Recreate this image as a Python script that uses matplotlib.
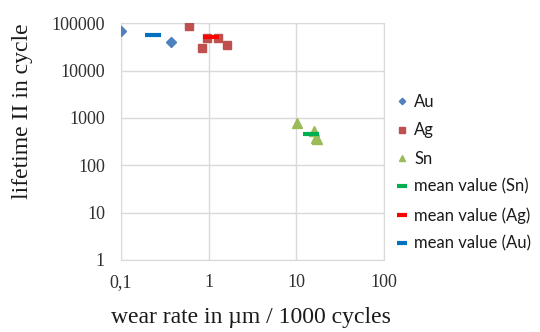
import matplotlib
matplotlib.use('Agg')
import matplotlib.pyplot as plt
from matplotlib.ticker import FixedLocator, FixedFormatter, NullLocator

# Messwerte (Verschleißrate in µm / 1000 Zyklen, Lebensdauer in Zyklen)
au_x = [0.1, 0.37]
au_y = [70000, 40500]
ag_x = [0.59, 0.83, 0.97, 1.28, 1.64]
ag_y = [89000, 30500, 49500, 49500, 34300]
sn_x = [10.3, 16.0, 16.6, 17.4]
sn_y = [790, 520, 370, 360]

# Mittelwerte
mean_sn = (14.8, 452)
mean_ag = (1.06, 51000)
mean_au = (0.234, 56500)

x_ticks = [0.1, 1, 10, 100]
x_labels = ['0,1', '1', '10', '100']
y_ticks = [1, 10, 100, 1000, 10000, 100000]
y_labels = ['1', '10', '100', '1000', '10000', '100000']

serif = 'Liberation Serif'
sans = 'Lato'

fig = plt.figure(figsize=(5.4, 3.32), dpi=100)
ax = fig.add_axes([0.224, 0.217, 0.487, 0.713])

ax.plot(au_x, au_y, linestyle='none', marker='D', markersize=5, color='#4F81BD', label='Au', zorder=3)
ax.plot(ag_x, ag_y, linestyle='none', marker='s', markersize=6.2, color='#C0504D', label='Ag', zorder=3)
ax.plot(sn_x, sn_y, linestyle='none', marker='^', markersize=6.8, color='#9BBB59', label='Sn', zorder=3)
mean_style = dict(linestyle='none', marker='_', markersize=11, markeredgewidth=3, zorder=4)
ax.plot([mean_sn[0]], [mean_sn[1]], color='#00B050', label='mean value (Sn)', **mean_style)
ax.plot([mean_ag[0]], [mean_ag[1]], color='#FF0000', label='mean value (Ag)', **mean_style)
ax.plot([mean_au[0]], [mean_au[1]], color='#0070C0', label='mean value (Au)', **mean_style)

ax.set_xscale('log')
ax.set_yscale('log')
ax.set_xlim(0.1, 100)
ax.set_ylim(1, 100000)
ax.xaxis.set_major_locator(FixedLocator(x_ticks))
ax.xaxis.set_major_formatter(FixedFormatter(x_labels))
ax.xaxis.set_minor_locator(NullLocator())
ax.yaxis.set_major_locator(FixedLocator(y_ticks))
ax.yaxis.set_major_formatter(FixedFormatter(y_labels))
ax.yaxis.set_minor_locator(NullLocator())

ax.grid(True, color='#D9D9D9', linewidth=1)
ax.set_axisbelow(True)
for s in ax.spines.values():
    s.set_color('#D9D9D9')
ax.tick_params(length=0, labelsize=13, labelcolor='#303030')
for lbl in ax.get_xticklabels() + ax.get_yticklabels():
    lbl.set_family(serif)
ax.tick_params(axis='y', pad=11.5)
ax.tick_params(axis='x', pad=10)

fig.text(0.465, 0.045, 'wear rate in µm / 1000 cycles', fontsize=17, family=serif,
         color='#1a1a1a', ha='center', va='center')
fig.text(0.042, 0.665, 'lifetime II in cycle', fontsize=17, family=serif,
         color='#1a1a1a', ha='center', va='center', rotation=90)

leg = fig.legend(loc='upper left', bbox_to_anchor=(0.733, 0.716), frameon=False,
                 prop={'family': sans, 'size': 12}, labelspacing=0.73, handlelength=0.7,
                 handletextpad=0.4, markerscale=0.65, borderpad=0, borderaxespad=0)
for t in leg.get_texts():
    t.set_color('#1a1a1a')

fig.savefig('out.png', dpi=100)
